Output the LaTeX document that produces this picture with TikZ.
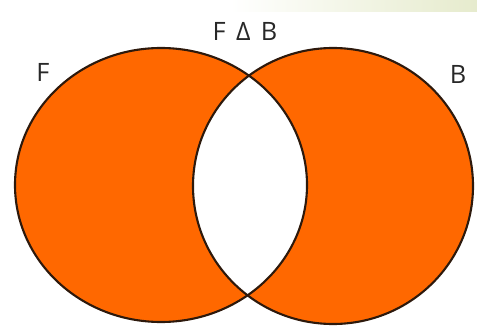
\documentclass[tikz,border=0pt]{standalone}
\usepackage{fontspec}
\setmainfont{Open Sans}
\definecolor{vennorange}{RGB}{255,104,0}
\definecolor{edgebrown}{RGB}{45,25,12}
\definecolor{labelgray}{RGB}{40,40,40}
\definecolor{barlime}{RGB}{230,235,205}

\begin{document}
\begin{tikzpicture}[x=0.25mm,y=-0.25mm,
  setlabel/.style={labelgray, font=\fontsize{18}{21}\selectfont, inner sep=0pt}]

\useasboundingbox (0,0) rectangle (477,330);

% --- Top bar ---
\shade[left color=white, right color=barlime] (230,0) rectangle (477,12);

% --- Sets F and B ---
\fill[vennorange] (161,185) ellipse [x radius=146, y radius=137];
\fill[vennorange] (333,186) ellipse [x radius=140, y radius=138];

% --- Intersection left blank ---
\begin{scope}
  \clip (161,185) ellipse [x radius=146, y radius=137];
  \fill[white] (333,186) ellipse [x radius=140, y radius=138];
\end{scope}

% --- Outlines ---
\draw[edgebrown, line width=1.5pt] (161,185) ellipse [x radius=146, y radius=137];
\draw[edgebrown, line width=1.5pt] (333,186) ellipse [x radius=140, y radius=138];

% Labels
\node[setlabel] (lblF) at (43,72) {F};
\node[setlabel] (lblB) at (458,74) {B};
\node[setlabel] (lblDiff) at (245,31) {F\hspace{0.15em} Δ\hspace{0.15em} B};

\end{tikzpicture}
\end{document}
